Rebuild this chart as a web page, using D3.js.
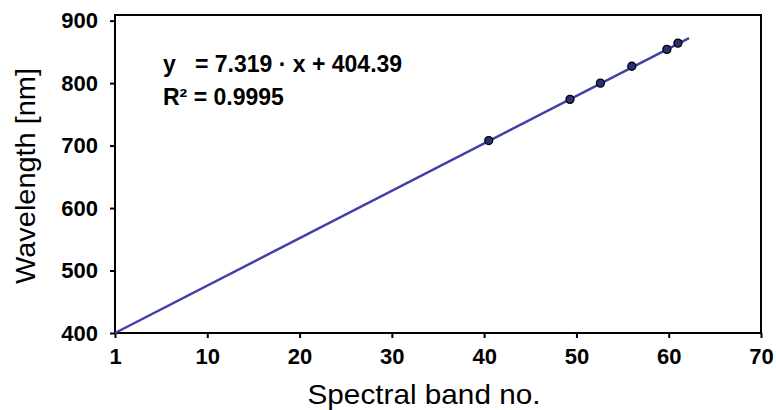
<!DOCTYPE html>
<html><head><meta charset="utf-8">
<script src="https://cdn.jsdelivr.net/npm/d3@7"></script>
<style>
html,body{margin:0;padding:0;background:#fff;}
svg{display:block;font-family:"Liberation Sans",Arial,sans-serif;}
</style></head>
<body><svg id="c" width="776" height="410"></svg>
<script>
// Data
const bandNo = [40.5, 49.3, 52.6, 56.0, 59.8, 61.0];
const wavelength = [708, 774, 800, 827, 854, 864];
const fitX = [0, 62.2];
const fitY = [400, 872];
const xTickValues = [0, 10, 20, 30, 40, 50, 60, 70];
const xTickLabels = ["1", "10", "20", "30", "40", "50", "60", "70"];
const yTickValues = [400, 500, 600, 700, 800, 900];
const equationLines = ["y   = 7.319 \u00b7 x + 404.39", "R\u00b2 = 0.9995"];
const xTitle = "Spectral band no.";
const yTitle = "Wavelength [nm]";

const svg = d3.select("#c");
const L = 115, R = 761, T = 15, B = 333;
const x = d3.scaleLinear().domain([0, 70]).range([L, R]);
const y = d3.scaleLinear().domain([400, 909]).range([B, T]);

// frame
svg.append("rect").attr("x", L).attr("y", T).attr("width", R - L).attr("height", B - T)
  .attr("fill", "none").attr("stroke", "#000").attr("stroke-width", 2);

const xAxis = svg.append("g").attr("transform", `translate(0,${B})`)
  .call(d3.axisBottom(x).tickValues(xTickValues).tickSize(5).tickPadding(10)
    .tickFormat((d, i) => xTickLabels[i]));
const yAxis = svg.append("g").attr("transform", `translate(${L},0)`)
  .call(d3.axisLeft(y).tickValues(yTickValues).tickSize(5).tickPadding(12));
[xAxis, yAxis].forEach(a => {
  a.select(".domain").remove();
  a.selectAll("line").attr("stroke", "#000").attr("stroke-width", 2);
  a.selectAll("text").attr("fill", "#000").attr("font-size", 22)
    .attr("font-family", "Liberation Sans, Arial, sans-serif").attr("font-weight", "bold");
});

// fit line
svg.append("line")
  .attr("x1", x(fitX[0])).attr("y1", y(fitY[0]))
  .attr("x2", x(fitX[1])).attr("y2", y(fitY[1]))
  .attr("stroke", "#4040a8").attr("stroke-width", 2.5);

// points
svg.append("g").selectAll("circle").data(bandNo).join("circle")
  .attr("cx", d => x(d)).attr("cy", (d, i) => y(wavelength[i])).attr("r", 4)
  .attr("fill", "#2e2e78").attr("stroke", "#000").attr("stroke-width", 1.3);

// equation
svg.append("g").selectAll("text").data(equationLines).join("text")
  .attr("x", 163).attr("y", (d, i) => 72 + i * 33)
  .attr("font-size", 23).attr("font-weight", "bold").attr("fill", "#000")
  .attr("xml:space", "preserve").style("white-space", "pre")
  .text(d => d);

// titles
svg.append("text").attr("x", 424).attr("y", 404).attr("text-anchor", "middle")
  .attr("font-size", 28).attr("fill", "#000")
  .attr("textLength", 233).attr("lengthAdjust", "spacingAndGlyphs").text(xTitle);
svg.append("text").attr("transform", `translate(35,176) rotate(-90)`)
  .attr("text-anchor", "middle").attr("font-size", 28).attr("fill", "#000")
  .attr("textLength", 216).attr("lengthAdjust", "spacingAndGlyphs").text(yTitle);
</script></body></html>
